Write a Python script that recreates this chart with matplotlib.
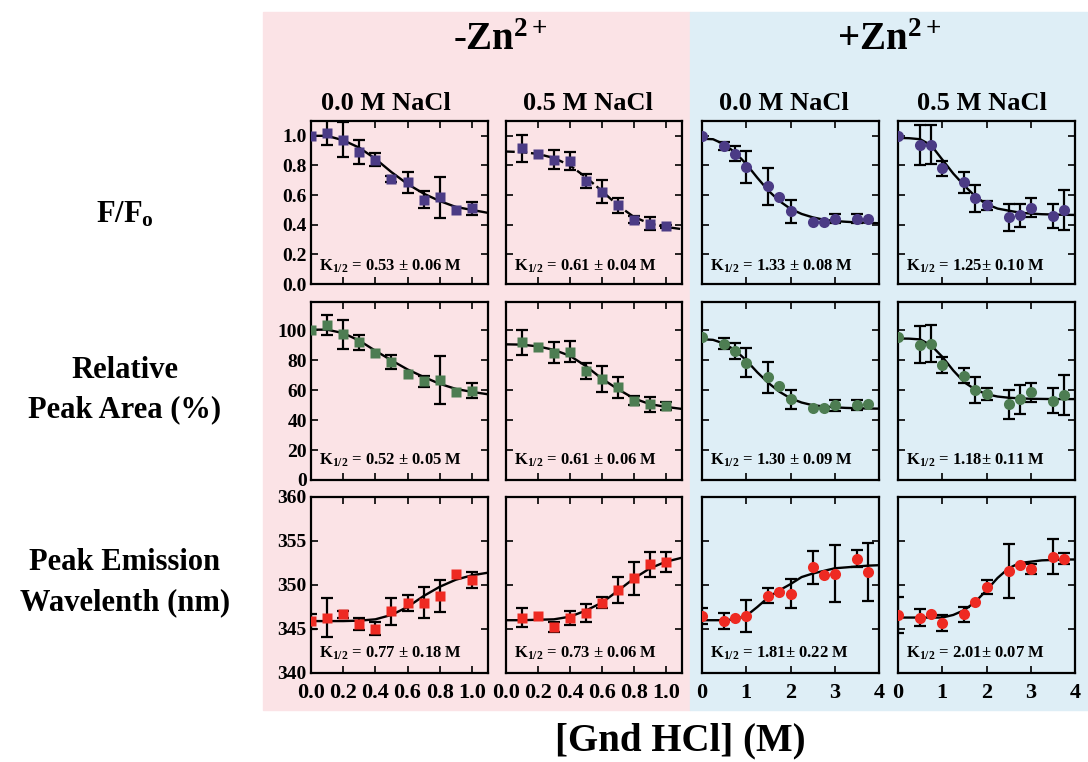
import numpy as np
import matplotlib.pyplot as plt
from matplotlib.patches import Rectangle
from matplotlib.ticker import FormatStrFormatter, MultipleLocator

plt.rcParams['font.family'] = ['Liberation Serif', 'DejaVu Serif']
plt.rcParams['font.weight'] = 'bold'
plt.rcParams['mathtext.fontset'] = 'custom'
plt.rcParams['mathtext.rm'] = 'Liberation Serif:bold'
plt.rcParams['mathtext.bf'] = 'Liberation Serif:bold'
plt.rcParams['mathtext.it'] = 'Liberation Serif:bold'

# --- data ---
# x positions, [Gnd HCl] in M
x_noZn_0 = [0.0, 0.1, 0.2, 0.3, 0.4, 0.5, 0.6, 0.7, 0.8, 0.9, 1.0]
x_noZn_5 = [0.1, 0.2, 0.3, 0.4, 0.5, 0.6, 0.7, 0.8, 0.9, 1.0]
x_Zn = [0, 0.5, 0.75, 1.0, 1.5, 1.75, 2.0, 2.5, 2.75, 3.0, 3.5, 3.75]
fit_x_noZn = [0.0, 0.1, 0.2, 0.3, 0.4, 0.5, 0.6, 0.7, 0.8, 0.9, 1.0, 1.1]
fit_x_Zn = [0, 0.25, 0.5, 0.75, 1.0, 1.25, 1.5, 1.75, 2.0, 2.25, 2.5, 2.75,
            3.0, 3.25, 3.5, 3.75, 4.0]

# F/Fo
ff_noZn_0 = [1.0, 1.02, 0.975, 0.89, 0.84, 0.71, 0.685, 0.57, 0.585, 0.50, 0.51]
ff_noZn_0_err = [0, 0.085, 0.115, 0.08, 0.045, 0.02, 0.07, 0.055, 0.14, 0, 0.045]
ff_noZn_0_fit = [1.0, 1.0, 0.97, 0.92, 0.845, 0.755, 0.675, 0.61, 0.56, 0.52, 0.50, 0.48]
ff_noZn_5 = [0.916, 0.876, 0.84, 0.83, 0.695, 0.622, 0.53, 0.434, 0.407, 0.39]
ff_noZn_5_err = [0.09, 0, 0.065, 0.06, 0.05, 0.078, 0.05, 0.025, 0.045, 0.01]
ff_noZn_5_fit = [0.894, 0.89, 0.878, 0.85, 0.80, 0.72, 0.627, 0.53, 0.452, 0.407, 0.385, 0.37]
ff_Zn_0 = [1.0, 0.93, 0.88, 0.79, 0.66, 0.59, 0.49, 0.42, 0.42, 0.44, 0.44, 0.44]
ff_Zn_0_err = [0, 0.025, 0.05, 0.107, 0.125, 0, 0.075, 0, 0, 0.03, 0.03, 0]
ff_Zn_0_fit = [0.98, 0.977, 0.943, 0.887, 0.81, 0.717, 0.63, 0.56, 0.507, 0.473, 0.45,
               0.434, 0.425, 0.42, 0.416, 0.413, 0.41]
ff_Zn_5 = [1.0, 0.936, 0.94, 0.78, 0.686, 0.577, 0.53, 0.45, 0.464, 0.516, 0.46, 0.50]
ff_Zn_5_err = [0, 0.134, 0.133, 0.05, 0.073, 0.089, 0.033, 0.09, 0.076, 0.064, 0.08, 0.133]
ff_Zn_5_fit = [0.986, 0.984, 0.977, 0.936, 0.84, 0.745, 0.664, 0.59, 0.539, 0.509, 0.495,
               0.482, 0.475, 0.471, 0.469, 0.467, 0.466]

# Relative peak area (%)
pa_noZn_0 = [100, 103.4, 97.3, 92, 85.2, 79, 71.1, 66, 67, 59, 59.8]
pa_noZn_0_err = [0, 6.6, 9.9, 5, 0, 4.7, 0, 3.6, 15.9, 0, 4.9]
pa_noZn_0_fit = [100.5, 100.5, 98.2, 93.2, 86.4, 80, 73.9, 68.9, 64.3, 60.9, 58.9, 57.3]
pa_noZn_5 = [92, 88.6, 85.2, 85.7, 72.7, 67.5, 62, 52.9, 50.7, 49.3]
pa_noZn_5_err = [8.6, 0, 7, 7, 5.5, 8.9, 7, 3, 5, 2.8]
pa_noZn_5_fit = [90.7, 90.5, 89.3, 87, 83, 76.1, 67.7, 60.7, 54.5, 50.7, 48.9, 47.5]
pa_Zn_0 = [95.7, 91.2, 86, 78.4, 68.7, 62.6, 54, 48.4, 48.4, 50, 50, 50.7]
pa_Zn_0_err = [0, 3.6, 5.3, 9.8, 10.5, 0, 6.5, 0, 0, 3.7, 3.4, 0]
pa_Zn_0_fit = [94.1, 93.7, 91.2, 86.7, 80, 72, 64.9, 59, 54.6, 51.8, 50, 49.2, 48.6,
               48.2, 48, 47.8, 47.7]
pa_Zn_5 = [95.7, 90.5, 91.2, 77, 69.8, 60.4, 57.4, 50.7, 54, 58.6, 52.9, 56.8]
pa_Zn_5_err = [0, 12.6, 12.4, 5.3, 5.1, 8.7, 4.2, 9.7, 9.6, 6.5, 8.4, 13.5]
pa_Zn_5_fit = [94.6, 94.5, 94, 90, 82.4, 73.2, 65.3, 60.4, 57.4, 55.8, 55, 54.6, 54.3,
               54.2, 54.1, 54.1, 54.1]

# Peak emission wavelength (nm)
wl_noZn_0 = [345.9, 346.3, 346.65, 345.6, 345.05, 347.0, 348.0, 348.0, 348.75, 351.3, 350.6]
wl_noZn_0_err = [0.85, 2.2, 0.4, 0.7, 0.7, 1.5, 0.9, 1.8, 1.8, 0, 0.9]
wl_noZn_0_fit = [345.9, 345.9, 345.9, 345.95, 346.1, 346.6, 347.5, 348.75, 349.8, 350.6,
                 351.1, 351.4]
wl_noZn_5 = [346.3, 346.5, 345.25, 346.3, 346.85, 348.0, 349.4, 350.75, 352.35, 352.6]
wl_noZn_5_err = [1.05, 0, 0.6, 0.8, 1.0, 0.6, 1.5, 1.9, 1.4, 1.15]
wl_noZn_5_fit = [346.0, 346.0, 346.05, 346.1, 346.4, 347.1, 348.0, 349.35, 350.75, 351.9,
                 352.65, 353.1]
wl_Zn_0 = [346.5, 345.9, 346.3, 346.5, 348.8, 349.25, 349.0, 352.0, 351.1, 351.3, 353.0, 351.5]
wl_Zn_0_err = [0.9, 0.95, 0, 1.8, 0.9, 0, 1.65, 1.9, 0, 3.2, 1.0, 3.3]
wl_Zn_0_fit = [346.0, 346.0, 346.0, 346.1, 346.5, 347.5, 348.6, 349.4, 350.1, 350.9, 351.3,
               351.6, 351.9, 352.0, 352.1, 352.2, 352.25]
wl_Zn_5 = [346.6, 346.3, 346.7, 345.7, 346.65, 348.1, 349.75, 351.6, 352.3, 351.8, 353.2, 353.0]
wl_Zn_5_err = [2.0, 0.95, 0, 0.9, 0.8, 0, 0.8, 3.1, 0, 0.6, 2.0, 0.6]
wl_Zn_5_fit = [346.3, 346.3, 346.3, 346.3, 346.3, 346.6, 347.15, 348.1, 349.4, 350.8, 351.9,
               352.5, 352.65, 352.8, 352.85, 352.9, 352.9]

k_labels = [
    ['0.53 ± 0.06 M', '0.61 ± 0.04 M', '1.33 ± 0.08 M', '1.25± 0.10 M'],
    ['0.52 ± 0.05 M', '0.61 ± 0.06 M', '1.30 ± 0.09 M', '1.18± 0.11 M'],
    ['0.77 ± 0.18 M', '0.73 ± 0.06 M', '1.81± 0.22 M', '2.01± 0.07 M'],
]
row_labels = [r'F/F$_{\mathrm{o}}$', 'Relative\nPeak Area (%)', 'Peak Emission\nWavelenth (nm)']
col_labels = ['0.0 M NaCl', '0.5 M NaCl', '0.0 M NaCl', '0.5 M NaCl']
group_labels = [r'-Zn$^{2+}$', r'+Zn$^{2+}$']

rows = [
    [(x_noZn_0, ff_noZn_0, ff_noZn_0_err, fit_x_noZn, ff_noZn_0_fit),
     (x_noZn_5, ff_noZn_5, ff_noZn_5_err, fit_x_noZn, ff_noZn_5_fit),
     (x_Zn, ff_Zn_0, ff_Zn_0_err, fit_x_Zn, ff_Zn_0_fit),
     (x_Zn, ff_Zn_5, ff_Zn_5_err, fit_x_Zn, ff_Zn_5_fit)],
    [(x_noZn_0, pa_noZn_0, pa_noZn_0_err, fit_x_noZn, pa_noZn_0_fit),
     (x_noZn_5, pa_noZn_5, pa_noZn_5_err, fit_x_noZn, pa_noZn_5_fit),
     (x_Zn, pa_Zn_0, pa_Zn_0_err, fit_x_Zn, pa_Zn_0_fit),
     (x_Zn, pa_Zn_5, pa_Zn_5_err, fit_x_Zn, pa_Zn_5_fit)],
    [(x_noZn_0, wl_noZn_0, wl_noZn_0_err, fit_x_noZn, wl_noZn_0_fit),
     (x_noZn_5, wl_noZn_5, wl_noZn_5_err, fit_x_noZn, wl_noZn_5_fit),
     (x_Zn, wl_Zn_0, wl_Zn_0_err, fit_x_Zn, wl_Zn_0_fit),
     (x_Zn, wl_Zn_5, wl_Zn_5_err, fit_x_Zn, wl_Zn_5_fit)],
]

# --- styling / layout ---
W, H = 1088, 762
pink = '#fbe3e6'
blue = '#deeef6'
row_colors = ['#4b3b85', '#4d7d52', '#ee2a22']
ylims = [(0, 1.1), (0, 119), (340, 360)]
ysteps = [0.2, 20, 5]
yfmts = ['%.1f', '%d', '%d']
col_px = [(311, 488), (506, 682), (702, 879), (898, 1075)]
row_px = [(121, 284), (302, 480), (497, 673)]

fig = plt.figure(figsize=(W / 100, H / 100), dpi=100)
fig.patches.append(Rectangle((263 / W, 1 - 710 / H), (690 - 263) / W, 698 / H,
                             transform=fig.transFigure, color=pink, zorder=-5))
fig.patches.append(Rectangle((690 / W, 1 - 710 / H), (W - 690) / W, 698 / H,
                             transform=fig.transFigure, color=blue, zorder=-5))

for i, row in enumerate(rows):
    for j, (x, y, err, fx, fy) in enumerate(row):
        l, r = col_px[j]
        t, b = row_px[i]
        ax = fig.add_axes([l / W, 1 - b / H, (r - l) / W, (b - t) / H])
        ax.set_facecolor('none')
        x = np.array(x)
        y = np.array(y)
        err = np.array(err)
        has = err > 0
        ls = '--' if (i == 0 and j == 1) else '-'
        ax.plot(fx, fy, color='black', lw=1.7, ls=ls, zorder=2)
        ax.errorbar(x[has], y[has], yerr=err[has], fmt='none', ecolor='black',
                    elinewidth=1.6, capsize=4, capthick=1.6, zorder=3)
        mk = 's' if j < 2 else 'o'
        ax.plot(x, y, mk, color=row_colors[i], ms=7.5 if j < 2 else 8, mec='none', zorder=4)

        ax.set_ylim(*ylims[i])
        ax.yaxis.set_major_locator(MultipleLocator(ysteps[i]))
        ax.yaxis.set_major_formatter(FormatStrFormatter(yfmts[i]))
        if j < 2:
            ax.set_xlim(0, 1.1)
            ax.xaxis.set_major_locator(MultipleLocator(0.2))
            ax.xaxis.set_major_formatter(FormatStrFormatter('%.1f'))
        else:
            ax.set_xlim(0, 4)
            ax.xaxis.set_major_locator(MultipleLocator(1))
            ax.xaxis.set_major_formatter(FormatStrFormatter('%d'))
        ax.tick_params(direction='in', top=True, right=True, length=5, width=1.2)
        ax.tick_params(axis='y', pad=3, labelsize=14)
        ax.tick_params(axis='x', pad=7, labelsize=16)
        if j > 0:
            ax.tick_params(labelleft=False)
        if i < 2:
            ax.tick_params(labelbottom=False)
        for s in ax.spines.values():
            s.set_linewidth(1.6)
        ax.text(0.045, 0.11, r'K$_{\mathrm{1/2}}$ = ' + k_labels[i][j], transform=ax.transAxes,
                fontsize=12, va='center', ha='left')

# labels around the grid
row_label_y = [215, 390, 583]
for lab, yy in zip(row_labels, row_label_y):
    fig.text(125 / W, 1 - yy / H, lab, ha='center', va='center', fontsize=22,
             linespacing=1.5)
col_label_x = [386, 588, 784, 982]
for lab, xx in zip(col_labels, col_label_x):
    fig.text(xx / W, 1 - 104 / H, lab, ha='center', va='center', fontsize=19)
for lab, xx in zip(group_labels, [500, 889]):
    fig.text(xx / W, 1 - 40 / H, lab, ha='center', va='center', fontsize=28)
fig.text(680 / W, 1 - 741 / H, '[Gnd HCl] (M)', ha='center', va='center', fontsize=28)

fig.savefig('out.png', dpi=100)
